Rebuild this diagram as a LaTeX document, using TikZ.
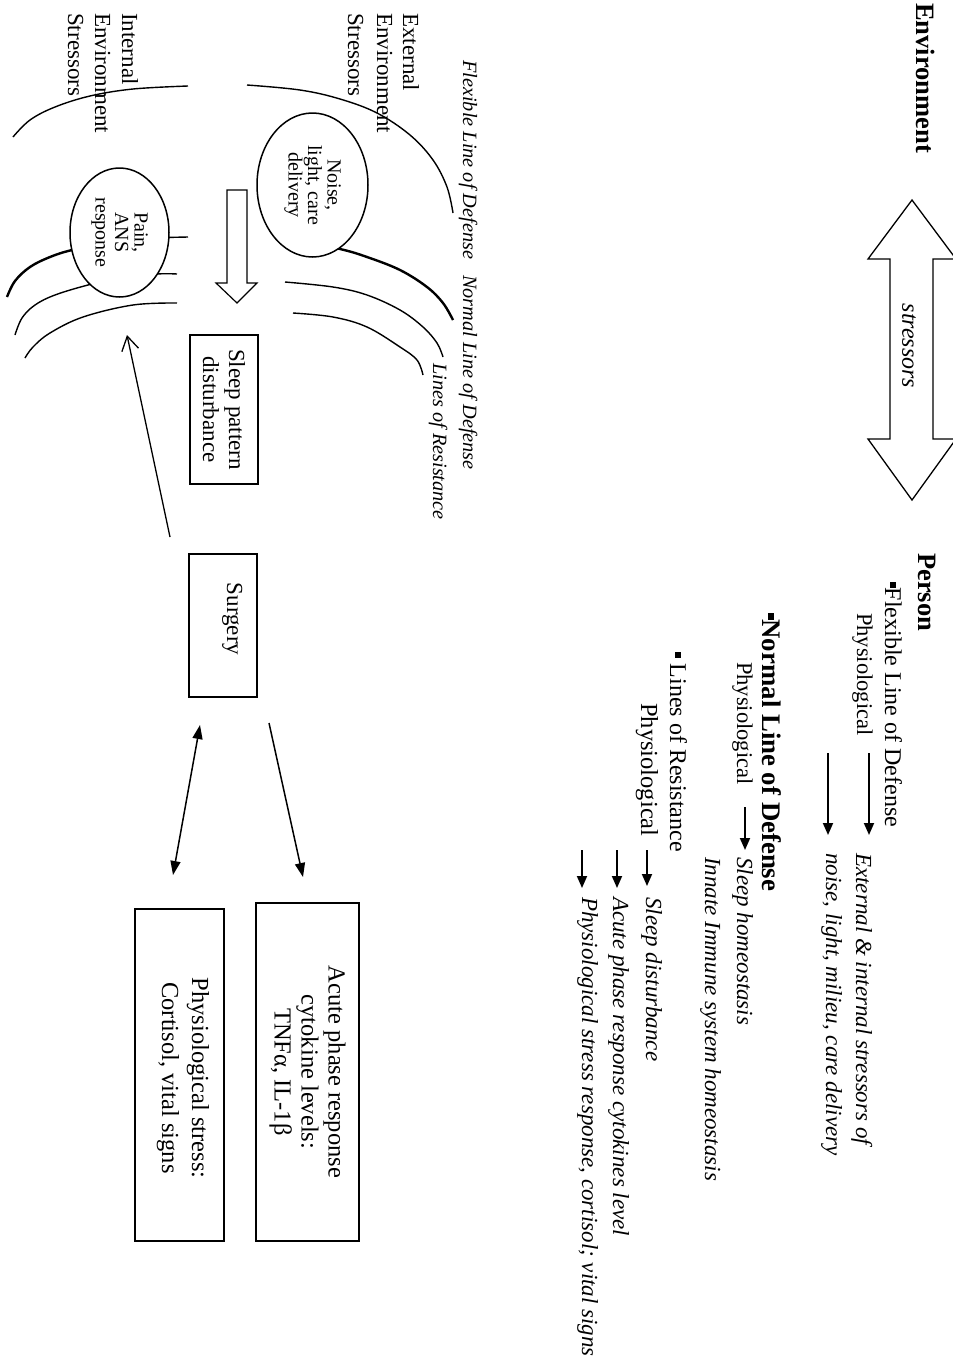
\documentclass[tikz,border=0pt]{standalone}
\usepackage{fontspec}
\setmainfont{Liberation Serif}
\usetikzlibrary{arrows.meta,shapes.geometric}
\newcommand{\fsz}[2]{\fontsize{#1}{#2}\selectfont}
\newcommand{\sqb}{\rule[0.22em]{0.24em}{0.24em}}
\begin{document}
\begin{tikzpicture}[x=1pt,y=-1pt,
  vt/.style={rotate=-90,anchor=base west,inner sep=0pt},
  vc/.style={rotate=-90,anchor=base,inner sep=0pt},
  arcline/.style={line width=1.4pt},
  boldarc/.style={line width=2.4pt},
  boxnode/.style={draw,line width=1.6pt,rotate=-90,inner sep=0pt,align=center,fill=white},
  ell/.style={draw,ellipse,line width=1.5pt,rotate=-90,inner sep=0pt,fill=white},
  elltxt/.style={rotate=-90,inner sep=0pt,align=center,font=\fsz{20}{19.5}},
  listarrow/.style={line width=1.8pt,-{Triangle[length=12pt,width=10pt]}},
  sarrow/.style={line width=1.5pt,-{Triangle[length=14pt,width=10pt]}},
  darrow/.style={line width=1.5pt,{Triangle[length=14pt,width=10pt]}-{Triangle[length=14pt,width=10pt]}},
  openarrow/.style={line width=1.3pt,-{Straight Barb[length=14pt,width=17pt]}},
  hollow/.style={line width=1.2pt},
  lbl/.style={vt,font=\fsz{20.3}{24}\itshape},
  envtxt/.style={vt,font=\fsz{23}{27}},
  rit/.style={vt,font=\fsz{23}{27}\itshape},
  rrm/.style={vt,font=\fsz{24}{28}},
  hdr/.style={vt,font=\fsz{26.5}{30}\bfseries}
]
\useasboundingbox (0,0) rectangle (953,1358);

% ---------- lines of defense / resistance ----------
% flexible line
\draw[arcline] plot[smooth,tension=0.6] coordinates {(247,85) (300,90) (340,99) (377,113) (410,135) (433,160) (447,187) (453,213)};
\draw[arcline] plot[smooth,tension=0.6] coordinates {(188,86) (133,89) (90,96) (55,107) (30,120) (13,137)};
% normal line
\draw[boldarc] plot[smooth,tension=0.6] coordinates {(295,240) (340,249) (367,257) (400,270) (427,287) (443,303) (453,320)};
\draw[boldarc] plot[smooth,tension=0.6] coordinates {(7,297) (15,281) (30,267) (50,257) (72,250) (110,242)};
\draw[arcline] (140,238) -- (188,237);
% lines of resistance
\draw[arcline] plot[smooth,tension=0.6] coordinates {(15,335) (22,318) (35,305) (55,295) (88,285) (120,278) (157,274) (177,274)};
\draw[arcline] plot[smooth,tension=0.6] coordinates {(285,282) (333,287) (367,295) (400,310) (423,327) (437,343) (443,357)};
\draw[arcline] plot[smooth,tension=0.6] coordinates {(177,303) (133,305) (83,317) (50,333) (33,347) (25,358)};
\draw[arcline] plot[smooth,tension=0.6] coordinates {(293,313) (333,317) (367,327) (400,347) (417,360) (423,375)};

% ---------- ellipses ----------
\node[ell,minimum width=144pt,minimum height=111pt] (noise) at (312.5,185) {};
\node[elltxt] (noisetxt) at (noise.center) {Noise,\\light, care\\delivery};
\node[ell,minimum width=129pt,minimum height=99pt] (pain) at (119.5,232.5) {};
\node[elltxt] (paintxt) at (pain.center) {Pain,\\ANS\\response};

% ---------- hollow arrow ----------
\draw[hollow] (227,190) -- (247,190) -- (247,283) -- (257,283) -- (237,303) -- (216,283) -- (227,283) -- cycle;

% ---------- left labels ----------
\node[lbl] (flexlbl) at (463,60) {Flexible Line of Defense};
\node[lbl] (normlbl) at (463,275) {Normal Line of Defense};
\node[lbl] (reslbl) at (433,363) {Lines of Resistance};
\node[envtxt] (ext1) at (403,13) {External};
\node[envtxt] (ext2) at (377,13) {Environment};
\node[envtxt] (ext3) at (348,13) {Stressors};
\node[envtxt] (int1) at (122,13) {Internal};
\node[envtxt] (int2) at (95,13) {Environment};
\node[envtxt] (int3) at (68,13) {Stressors};

% ---------- boxes ----------
\node[boxnode,minimum width=149pt,minimum height=68pt,font=\fsz{23}{26}] (sleep) at (224,409.5) {Sleep pattern\\disturbance};
\node[boxnode,minimum width=143pt,minimum height=68pt] (surgery) at (223,625.5) {};
\node[vc,font=\fsz{23}{26}] (surgtxt) at (227,619) {Surgery};
\node[boxnode,minimum width=338pt,minimum height=103pt,font=\fsz{24.5}{27}] (acute) at (307.5,1072) {Acute phase response\\cytokine levels:\\TNFα, IL-1β};
\node[boxnode,minimum width=332pt,minimum height=89pt] (physbox) at (179.5,1075) {};
\node[rotate=-90,inner sep=0pt,align=center,font=\fsz{24.5}{30}] (physboxtxt) at (183,1078) {Physiological stress:\\Cortisol, vital signs};

% ---------- connectors ----------
\coordinate (longS) at (170,537);
\coordinate (longE) at (127,335);
\draw[openarrow] (longS) -- (longE);
\coordinate (s1s) at (269,723);
\coordinate (s1e) at (303,877);
\draw[sarrow] (s1s) -- (s1e);
\coordinate (s2s) at (200,725);
\coordinate (s2e) at (173,875);
\draw[darrow] (s2s) -- (s2e);

% ---------- top right ----------
\node[hdr] (env) at (916,3) {Environment};
\draw[hollow,line width=1.3pt] (912,200) -- (956,259) -- (933,259) -- (933,439) -- (956,439) -- (912,500) -- (868,439) -- (890,439) -- (890,259) -- (868,259) -- cycle;
\node[rotate=-90,inner sep=0pt,font=\fsz{24}{28}\itshape] (stress) at (909,346) {stressors};

% ---------- person list ----------
\node[hdr] (person) at (918,553) {Person};
\node[rrm] (flex) at (885,582) {\sqb Flexible Line of Defense};
\node[vt,font=\fsz{22.5}{27}] (phys1) at (857,613) {Physiological};
\coordinate (a1s) at (869,753); \coordinate (a1e) at (869,835);
\draw[listarrow] (a1s) -- (a1e);
\coordinate (a2s) at (828,753); \coordinate (a2e) at (828,835);
\draw[listarrow] (a2s) -- (a2e);
\node[rit] (ext) at (856,853) {External \& internal stressors of};
\node[rit] (noiseit) at (826,853) {noise, light, milieu, care delivery};

\node[vt,font=\fsz{26.8}{30}\bfseries] (normal) at (762,613) {\sqb Normal Line of Defense};
\node[vt,font=\fsz{22.5}{27}] (phys2) at (737,662) {Physiological};
\coordinate (a3s) at (745,807); \coordinate (a3e) at (745,850);
\draw[listarrow] (a3s) -- (a3e);
\node[rit] (sleephom) at (737,857) {Sleep homeostasis};
\node[rit] (innate) at (705,857) {Innate Immune system homeostasis};

\node[rrm] (lines) at (670,652) {\sqb\ Lines of Resistance};
\node[vt,font=\fsz{24.5}{28}] (phys3) at (641,703) {Physiological};
\coordinate (a4s) at (647,850); \coordinate (a4e) at (647,886);
\draw[listarrow] (a4s) -- (a4e);
\coordinate (a5s) at (617,850); \coordinate (a5e) at (617,888);
\draw[listarrow] (a5s) -- (a5e);
\coordinate (a6s) at (582,850); \coordinate (a6e) at (582,888);
\draw[listarrow] (a6s) -- (a6e);
\node[rit] (sleepdis) at (646,897) {Sleep disturbance};
\node[rit] (acutetxt) at (613,897) {Acute phase response cytokines level};
\node[rit] (physstress) at (582,897) {Physiological stress response, cortisol; vital signs};
\end{tikzpicture}
\end{document}
